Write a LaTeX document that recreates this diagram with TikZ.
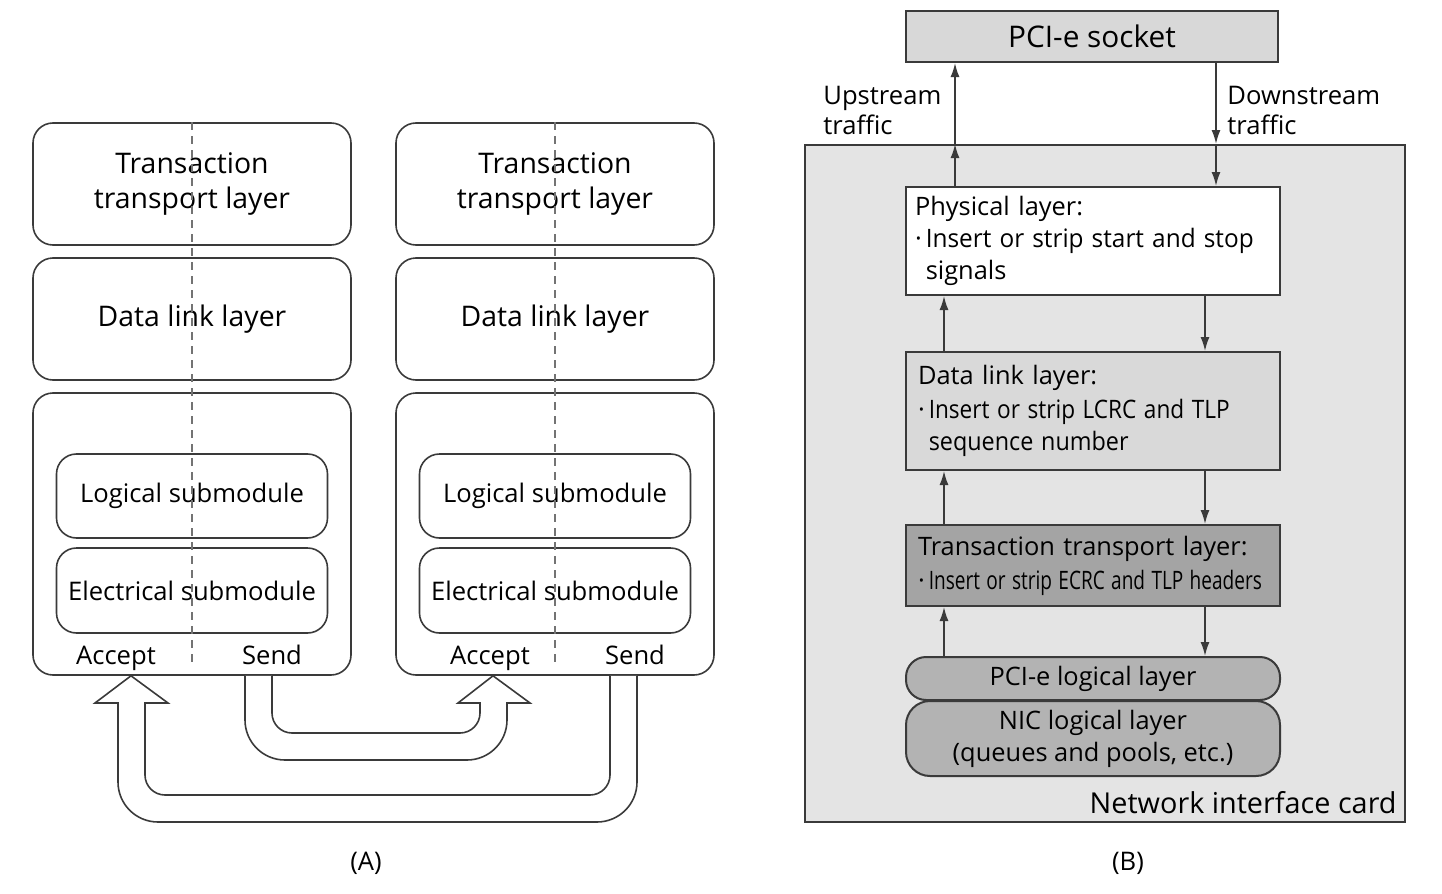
\documentclass[tikz,border=0pt]{standalone}
\usepackage{fontspec}
\setmainfont{Open Sans}
\usetikzlibrary{arrows.meta,positioning}
\definecolor{linegray}{HTML}{3A3A3A}
\definecolor{nicgray}{HTML}{E4E4E4}
\definecolor{sockgray}{HTML}{D8D8D8}
\definecolor{dllgray}{HTML}{D9D9D9}
\definecolor{ttlgray}{HTML}{A4A4A4}
\definecolor{loggray}{HTML}{B3B3B3}
\newcommand{\bul}{·\hspace{2pt}}

\begin{document}
\begin{tikzpicture}[x=0.5pt,y=-0.5pt,
	layerbox/.style={draw=linegray,line width=0.8pt,rounded corners=10pt,minimum width=159pt,align=center,font=\fontsize{14.2}{17.5}\selectfont},
	subbox/.style={draw=linegray,line width=0.8pt,rounded corners=10pt,minimum width=135.5pt,font=\fontsize{12.8}{15}\selectfont},
	lbl/.style={inner sep=0pt,anchor=base,font=\fontsize{12.8}{15}\selectfont},
	nicbox/.style={draw=linegray,line width=1pt,minimum width=187pt,align=left,font=\fontsize{12.7}{16}\selectfont},
	flow/.style={draw=linegray,line width=0.8pt,-{Latex[length=7pt,width=4.5pt]}},
	bigarrow/.style={draw=linegray,line width=0.8pt,fill=white,line join=miter}
	]
	\useasboundingbox (0,0) rectangle (1442,894);

	% (A)
	\foreach \cx/\n in {192/a,555/b}{
			\node[layerbox,minimum height=61pt] (ttl\n) at (\cx,184) {Transaction\\transport layer};
			\node[layerbox,minimum height=61pt] (dll\n) at (\cx,319) {Data link layer};
			\node[layerbox,minimum height=141pt] (phy\n) at (\cx,534) {};
			\node[subbox,minimum height=42pt] (log\n) at (\cx,496) {\raisebox{-2pt}{Logical submodule}};
			\node[subbox,minimum height=42.5pt] (ele\n) at (\cx,590.5) {Electrical submodule};
			\draw [dashed,gray!90!black,line width=0.7pt,dash pattern=on 4pt off 3pt](ttl\n.north)--++(0,540);
		}
	\node[lbl] (acca) at (116,664) {Accept};
	\node[lbl] (senda) at (272,664) {Send};
	\node[lbl] (accb) at (490,664) {Accept};
	\node[lbl] (sendb) at (635,664) {Send};

	\draw[bigarrow] (phyb.south -| 637,0) -- (637,782) arc[start angle=0,end angle=90,radius=40]
		-- (158,822) arc[start angle=90,end angle=180,radius=40] -- (118,703) -- (95,703)
		-- (phya.south -| 131,0) -- (168,703) -- (145,703) -- (145,775) arc[start angle=180,end angle=90,radius=20]
		-- (590,795) arc[start angle=90,end angle=0,radius=20] -- (phyb.south -| 610,0);
	\draw[bigarrow] (phya.south -| 245,0) -- (245,720) arc[start angle=180,end angle=90,radius=40]
		-- (467,760) arc[start angle=90,end angle=0,radius=40] -- (507,703) -- (530,703)
		-- (phyb.south -| 493,0) -- (458,703) -- (480,703) -- (480,713) arc[start angle=0,end angle=90,radius=20]
		-- (292,733) arc[start angle=90,end angle=180,radius=20] -- (phya.south -| 272,0);

	\node[lbl] (capa) at (366,870) {(A)};

	% (B)
	\node[draw=linegray,line width=1pt,fill=nicgray,minimum width=300pt,minimum height=338.5pt] (bnic) at (1105,483.5) {};
	\node[lbl,anchor=base east,font=\fontsize{14.4}{17}\selectfont] (niclbl) at (1397,813) {Network interface card};
	\node[nicbox,fill=sockgray,minimum width=186pt,minimum height=25.5pt,font=\fontsize{14.9}{17}\selectfont] (bsock) at (1092,36.5) {PCI-e socket};

	\node[nicbox,fill=white,minimum height=54pt,inner xsep=4.5pt,text width=178pt] (bphy) at (1093,241)
		{Physical layer:\\\bul\scalebox{0.96}[1]{Insert or strip start and stop}\\\phantom{\bul}signals};
	\node[nicbox,fill=dllgray,minimum height=59pt,inner xsep=6pt,text width=175pt] (bdll) at (1093,411)
		{Data link layer:\\[1pt]\bul\scalebox{0.89}[1]{Insert or strip LCRC and TLP}\\\phantom{\bul}\scalebox{0.92}[1]{sequence number}};
	\node[nicbox,fill=ttlgray,minimum height=40.5pt,inner xsep=6pt,text width=175pt] (bttl) at (1093,565.5)
		{Transaction transport layer:\\[1pt]\bul\scalebox{0.75}[1]{Insert or strip ECRC and TLP headers}};
	\node[nicbox,fill=loggray,minimum height=21.5pt,rounded corners=10pt,align=center] (bpci) at (1093,678.5) {PCI-e logical layer};
	\node[nicbox,fill=loggray,minimum height=37.5pt,rounded corners=12pt,align=center] (bnicl) at (1093,738.5)
		{NIC logical layer\\(queues and pools, etc.)};

	\coordinate (upx) at (955,0);
	\coordinate (dnx) at (1216,0);
	\coordinate (upy) at (944,0);
	\coordinate (dny) at (1205,0);
	\draw[flow] (bphy.north -| upx) -- (bnic.north -| upx);
	\draw[flow] (bnic.north -| upx) -- (bsock.south -| upx);
	\draw[flow] (bsock.south -| dnx) -- (bnic.north -| dnx);
	\draw[flow] (bnic.north -| dnx) -- (bphy.north -| dnx);
	\foreach \lo/\hi in {bdll/bphy,bttl/bdll,bpci/bttl}{
			\draw[flow] (\lo.north -| upy) -- (\hi.south -| upy);
			\draw[flow] (\hi.south -| dny) -- (\lo.north -| dny);
		}

	\node[lbl,anchor=base west,align=left] (upl) at (823,134) {Upstream\\traffic};
	\node[lbl,anchor=base west,align=left] (dnl) at (1227,134) {Downstream\\traffic};

	\node[lbl] (capb) at (1128,870) {(B)};
\end{tikzpicture}
\end{document}
